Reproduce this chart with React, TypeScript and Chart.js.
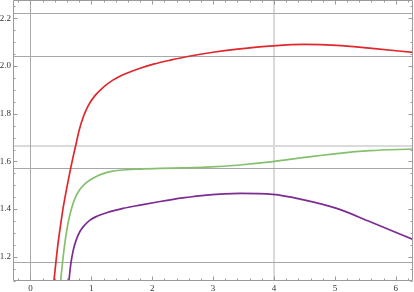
import React, { useEffect, useRef } from 'react';
import { Chart, registerables } from 'chart.js';

Chart.register(...registerables);

// ---- data ----
const redX = [0.386, 0.42, 0.457, 0.5, 0.54, 0.6, 0.66, 0.70, 0.745, 0.8, 0.867, 0.949, 1.059, 1.195, 1.36, 1.58, 1.8, 2.02, 2.3, 2.56, 3.0, 3.4, 3.99, 4.5, 5.03, 5.57, 6.283];
const redY = [1.1, 1.183, 1.265, 1.343, 1.41, 1.494, 1.571, 1.619, 1.669, 1.731, 1.786, 1.834, 1.876, 1.911, 1.942, 1.97, 1.991, 2.008, 2.025, 2.039, 2.058, 2.071, 2.085, 2.091, 2.087, 2.075, 2.057];

const greenX = [0.496, 0.53, 0.567, 0.62, 0.677, 0.74, 0.81, 0.89, 0.977, 1.08, 1.195, 1.33, 1.47, 1.8, 2.13, 2.5, 2.89, 3.44, 3.98, 4.47, 5.03, 5.57, 6.283];
const greenY = [1.1, 1.185, 1.262, 1.345, 1.405, 1.45, 1.482, 1.505, 1.522, 1.537, 1.549, 1.558, 1.563, 1.568, 1.571, 1.573, 1.576, 1.585, 1.599, 1.616, 1.633, 1.645, 1.652];

const purpleX = [0.632, 0.66, 0.70, 0.75, 0.81, 0.88, 0.977, 1.1, 1.25, 1.52, 1.8, 2.13, 2.5, 2.89, 3.44, 3.98, 4.47, 5.03, 5.57, 6.283];
const purpleY = [1.1, 1.165, 1.225, 1.27, 1.305, 1.33, 1.354, 1.371, 1.385, 1.403, 1.417, 1.432, 1.447, 1.459, 1.466, 1.462, 1.44, 1.403, 1.348, 1.273];

const X_MIN = -0.287;
const X_MAX = 6.283;
const Y_MIN = 1.0985;
const Y_MAX = 2.277;
const X_STEP = 1;
const Y_STEP = 0.2;
const X_MINOR = 0.2;
const Y_MINOR = 0.05;

const gridY = [2.221, 2.042, 1.571, 1.177];
const heavyGridY = [1.665];
const gridX = [0];
const heavyGridX = [4];

const toPoints = (xs: number[], ys: number[]) => xs.map((x, i) => ({ x, y: ys[i] }));

const framePlugin = {
  id: 'mmaFrame',
  beforeDatasetsDraw(chart: any) {
    const { ctx, chartArea: a, scales } = chart;
    const x = scales.x;
    const y = scales.y;
    ctx.save();
    ctx.strokeStyle = '#dadada';
    ctx.lineWidth = 2;
    heavyGridY.forEach((v) => {
      const p = y.getPixelForValue(v);
      ctx.beginPath(); ctx.moveTo(a.left, p); ctx.lineTo(a.right, p); ctx.stroke();
    });
    heavyGridX.forEach((v) => {
      const p = x.getPixelForValue(v);
      ctx.beginPath(); ctx.moveTo(p, a.top); ctx.lineTo(p, a.bottom); ctx.stroke();
    });
    ctx.strokeStyle = '#a8a8a8';
    ctx.lineWidth = 1;
    gridY.forEach((v) => {
      const p = Math.round(y.getPixelForValue(v)) + 0.5;
      ctx.beginPath(); ctx.moveTo(a.left, p); ctx.lineTo(a.right, p); ctx.stroke();
    });
    gridX.forEach((v) => {
      const p = Math.round(x.getPixelForValue(v)) + 0.5;
      ctx.beginPath(); ctx.moveTo(p, a.top); ctx.lineTo(p, a.bottom); ctx.stroke();
    });
    ctx.restore();
  },
  afterDatasetsDraw(chart: any) {
    const { ctx, chartArea: a, scales } = chart;
    const x = scales.x;
    const y = scales.y;
    ctx.save();
    ctx.strokeStyle = '#9a9a9a';
    ctx.lineWidth = 1;
    const L = Math.round(a.left) + 0.5;
    const R = Math.round(a.right) - 0.5;
    const T = Math.round(a.top) + 0.5;
    const B = Math.round(a.bottom) - 0.5;
    ctx.beginPath();
    ctx.moveTo(L, T); ctx.lineTo(R, T); ctx.lineTo(R, B); ctx.lineTo(L, B); ctx.closePath();
    ctx.stroke();
    const major = 4;
    const minor = 2;
    for (let i = Math.ceil(X_MIN / X_MINOR); i * X_MINOR <= X_MAX; i++) {
      const v = i * X_MINOR;
      const isMajor = Math.abs(v / X_STEP - Math.round(v / X_STEP)) < 1e-6;
      const len = isMajor ? major : minor;
      const p = Math.round(x.getPixelForValue(v)) + 0.5;
      ctx.beginPath();
      ctx.moveTo(p, B); ctx.lineTo(p, B - len);
      ctx.moveTo(p, T); ctx.lineTo(p, T + len);
      ctx.stroke();
    }
    for (let i = Math.ceil(Y_MIN / Y_MINOR); i * Y_MINOR <= Y_MAX; i++) {
      const v = i * Y_MINOR;
      const isMajor = Math.abs(v / Y_STEP - Math.round(v / Y_STEP)) < 1e-6;
      const len = isMajor ? major : minor;
      const p = Math.round(y.getPixelForValue(v)) + 0.5;
      ctx.beginPath();
      ctx.moveTo(L, p); ctx.lineTo(L + len, p);
      ctx.moveTo(R, p); ctx.lineTo(R - len, p);
      ctx.stroke();
    }
    ctx.restore();
  },
};

export default function App() {
  const ref = useRef<HTMLCanvasElement | null>(null);
  useEffect(() => {
    if (!ref.current) return;
    const font = { family: "'Liberation Serif', 'DejaVu Serif', serif", size: 9 };
    const chart = new Chart(ref.current, {
      type: 'line',
      data: {
        datasets: [
          { data: toPoints(redX, redY), borderColor: '#e0282c', borderWidth: 1.7 },
          { data: toPoints(greenX, greenY), borderColor: '#85c06e', borderWidth: 1.7 },
          { data: toPoints(purpleX, purpleY), borderColor: '#7d2b93', borderWidth: 1.7 },
        ].map((d) => ({ ...d, pointRadius: 0, fill: false, cubicInterpolationMode: 'monotone' as const })),
      },
      options: {
        animation: false,
        responsive: false,
        maintainAspectRatio: false,
        layout: { padding: { left: 0, right: 1, top: 0, bottom: 0 } },
        plugins: { legend: { display: false }, tooltip: { enabled: false } },
        scales: {
          x: {
            type: 'linear',
            min: X_MIN,
            max: X_MAX,
            grid: { display: false, drawTicks: false },
            border: { display: false },
            ticks: {
              stepSize: X_STEP,
              includeBounds: false,
              autoSkip: false,
              maxRotation: 0,
              padding: 2,
              color: '#333',
              font,
              callback: (v: any) => String(Math.round(Number(v))),
            },
            afterFit: (s: any) => { s.height = 11; s.paddingLeft = 0; s.paddingRight = 0; },
          },
          y: {
            type: 'linear',
            min: Y_MIN,
            max: Y_MAX,
            grid: { display: false, drawTicks: false },
            border: { display: false },
            ticks: {
              stepSize: Y_STEP,
              includeBounds: false,
              autoSkip: false,
              padding: 2,
              color: '#333',
              font,
              callback: (v: any) => Number(v).toFixed(1),
            },
            afterFit: (s: any) => { s.width = 13; s.paddingTop = 0; s.paddingBottom = 0; },
          },
        },
      },
      plugins: [framePlugin],
    } as any);
    return () => chart.destroy();
  }, []);
  return (
    <div style={{ position: 'absolute', left: 0, top: 0, width: 414, height: 292, background: '#fff' }}>
      <canvas ref={ref} width={414} height={292} style={{ width: 414, height: 292, display: 'block' }} />
    </div>
  );
}
